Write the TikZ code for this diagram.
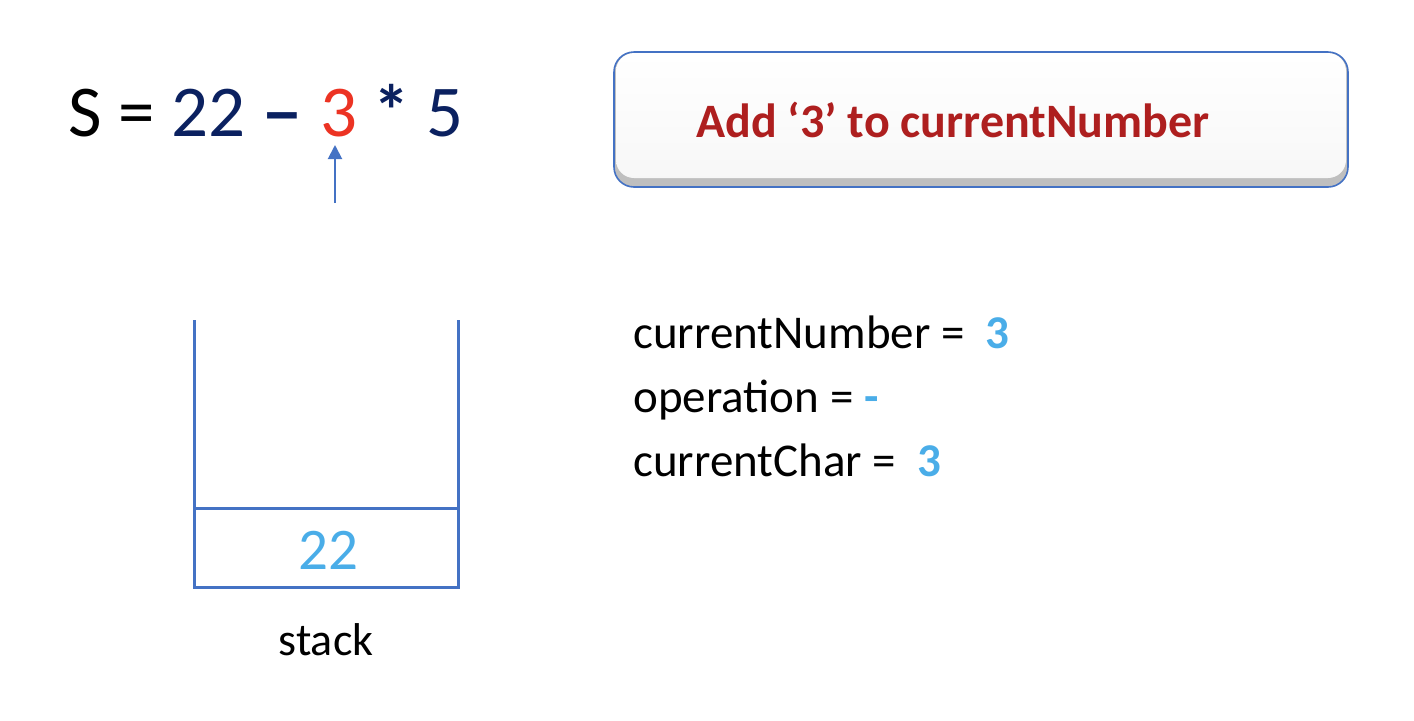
\documentclass[tikz,border=0pt]{standalone}
\usepackage{graphicx}
\usepackage{fontspec}
\setmainfont{Carlito}
\usetikzlibrary{arrows.meta}
\definecolor{navy}{HTML}{0B2160}
\definecolor{redthree}{HTML}{EC3323}
\definecolor{lightblue}{HTML}{4AADE8}
\definecolor{darkred}{HTML}{AE1F1F}
\definecolor{linkblue}{HTML}{4472C4}
\begin{document}
\begin{tikzpicture}[x=0.5pt,y=-0.5pt,
  eqtext/.style={anchor=base west,inner sep=0pt,font=\fontsize{36.5}{40}\selectfont},
  vartext/.style={anchor=base west,inner sep=0pt,font=\fontsize{23.5}{28}\selectfont},
  msgtext/.style={inner sep=0pt,text=darkred,font=\bfseries\fontsize{24}{28}\selectfont},
  stackline/.style={draw=linkblue,line width=1.5pt},
  pointer/.style={draw=linkblue,line width=1pt,-{Triangle[width=7pt,length=7pt]}},
  msgbox/.style={draw=linkblue,line width=0.8pt,rounded corners=10pt}]
\useasboundingbox (0,0) rectangle (1414,720);
% expression
\node[eqtext] (expr) at (68,136) {S = \textcolor{navy}{22 \scalebox{1.15}[1]{\bfseries –} }\textcolor{redthree}{3} \textcolor{navy}{{\bfseries *} 5}};
\coordinate (ptrtail) at (335,203);
\coordinate (ptrtip) at (335,145);
\draw[pointer] (ptrtail) -- (ptrtip);
% message box
\fill[gray!50,rounded corners=10pt] (614,52) rectangle (1348,187);
\shade[top color=white,bottom color=gray!6,rounded corners=9pt] (616,53) rectangle (1346,178);
\draw[msgbox] (614,52) rectangle (1348,187);
\node[msgtext] (msg) at (953,120) {Add ‘3’ to currentNumber};
% variables
\node[vartext] (cn) at (633,348) {currentNumber =\ \ \textcolor{lightblue}{\bfseries 3}};
\node[vartext] (op) at (633,412) {operation = \textcolor{lightblue}{\bfseries -}};
\node[vartext] (cc) at (633,476) {currentChar =\ \ \textcolor{lightblue}{\bfseries 3}};
% stack
\coordinate (tl) at (194,320);
\coordinate (tr) at (458,320);
\coordinate (bl) at (194,587);
\coordinate (br) at (458,587);
\coordinate (dl) at (194,508);
\coordinate (dr) at (458,508);
\draw[stackline] (tl) -- (bl) -- (br) -- (tr);
\draw[stackline] (dl) -- (dr);
\node[inner sep=0pt,anchor=base,text=lightblue,font=\fontsize{29.5}{32}\selectfont] (top) at (328,569) {22};
\node[inner sep=0pt,anchor=base,font=\fontsize{23}{28}\selectfont] (lbl) at (326,655) {stack};
\end{tikzpicture}
\end{document}
